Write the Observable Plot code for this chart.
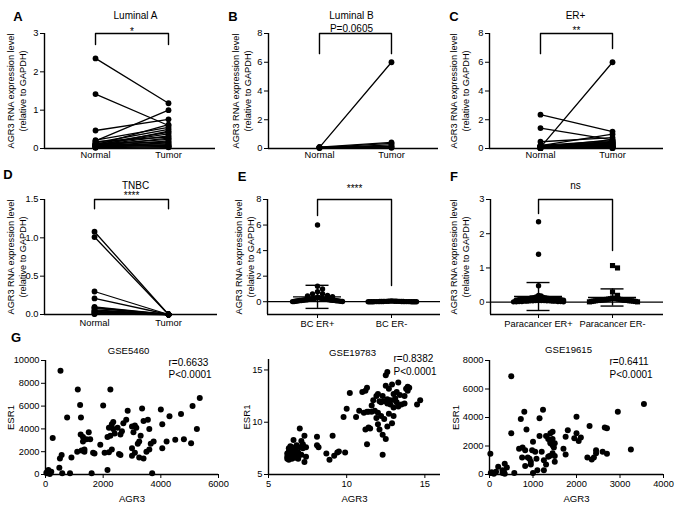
<!DOCTYPE html>
<html>
<head>
<meta charset="utf-8">
<script src="https://cdn.jsdelivr.net/npm/d3@7"></script>
<script src="https://cdn.jsdelivr.net/npm/@observablehq/plot@0.6"></script>
<style>
  body { margin: 0; background: #fff; }
  #fig { position: relative; width: 677px; height: 507px; overflow: hidden; background: #fff;
         font-family: Arial, "Liberation Sans", Helvetica, sans-serif; }
  .panel { position: absolute; }
  .letter { position: absolute; font-weight: bold; font-size: 13px; line-height: 1; transform: translate(-50%, -50%); color: #000; }
</style>
</head>
<body>
<div id="fig"></div>
<script>
// ---------------- DATA ----------------
const pairedCats = ["Normal", "Tumor"];
const bcCats = ["BC ER+", "BC ER-"];
const paraCats = ["Paracancer ER+", "Paracancer ER-"];
const yLabelExpr = "AGR3 RNA expression level\n(relative to GAPDH)";

// A: Luminal A (paired)
const lumANormal = [2.35,1.42,0.47,0.20,0.22,0.15,0.12,0.10,0.08,0.18,0.06,0.10,0.05,0.12,0.04,0.08,0.03,0.06,0.10,0.02,0.14,0.05,0.09,0.07];
const lumATumor  = [1.18,0.60,0.76,1.00,0.55,0.50,0.42,0.38,0.33,0.30,0.27,0.24,0.20,0.17,0.15,0.12,0.10,0.08,0.06,0.05,0.04,0.03,0.62,0.45];
// B: Luminal B (paired)
const lumBNormal = [0.08,0.10,0.06,0.05,0.09,0.04,0.07];
const lumBTumor  = [6.00,0.42,0.35,0.25,0.15,0.10,0.05];
// C: ER+ (paired)
const erPosNormal = [2.35,1.42,0.47,0.20,0.22,0.15,0.12,0.10,0.08,0.18,0.06,0.10,0.05,0.12,0.04,0.08,0.03,0.06,0.10,0.02,0.14,0.05,0.09,0.07,0.08,0.10,0.06,0.05,0.09,0.04,0.07];
const erPosTumor  = [1.18,0.60,0.76,1.00,0.55,0.50,0.42,0.38,0.33,0.30,0.27,0.24,0.20,0.17,0.15,0.12,0.10,0.08,0.06,0.05,0.04,0.03,0.62,0.45,6.00,0.42,0.35,0.25,0.15,0.10,0.05];
// D: TNBC (paired)
const tnbcNormal = [1.08,1.01,0.30,0.21,0.10,0.09,0.08,0.06,0.05,0.04,0.03,0.02,0.01,0.005];
const tnbcTumor  = [0,0,0,0,0,0,0,0,0,0,0,0,0,0];
// E: BC ER+ vs BC ER-
const bcErPos = [6.0,1.22,1.0,0.78,0.62,0.6,0.5,0.45,0.4,0.35,0.32,0.3,0.28,0.26,0.25,0.24,0.22,0.21,0.2,0.2,0.19,0.18,0.17,0.16,0.15,0.15,0.14,0.13,0.12,0.12,0.11,0.1,0.1,0.09,0.08,0.08,0.07,0.06,0.05,0.04,0.03,0.02,0.02,0.01];
const bcErNeg = [0.06,0.05,0.05,0.04,0.04,0.04,0.03,0.03,0.03,0.03,0.02,0.02,0.02,0.02,0.02,0.01,0.01,0.01,0.01,0.01,0.01,0.01,0,0,0,0,0,0,0,0];
// F: Paracancer ER+ vs ER-
const paraErPos = [2.35,1.4,0.48,0.2,0.18,0.15,0.14,0.13,0.12,0.12,0.11,0.1,0.1,0.1,0.09,0.09,0.08,0.08,0.08,0.07,0.07,0.06,0.06,0.05,0.05,0.05,0.05,0.04,0.04,0.04,0.04,0.03,0.03,0.03,0.03,0.02,0.02,0.02,0.02,0.01,0.01,0.01];
const paraErNeg = [1.07,1.0,0.3,0.2,0.12,0.11,0.1,0.1,0.09,0.09,0.08,0.08,0.07,0.07,0.07,0.06,0.06,0.06,0.05,0.05,0.05,0.04,0.04,0.04,0.03,0.03,0.02,0.02,0.01,0.01];

// G: correlations [AGR3, ESR1]
const gse5460 = [[50,100],[80,300],[120,200],[150,50],[200,250],[250,3200],[100,400],[30,150],
  [500,1400],[520,9100],[480,600],[560,1700],[580,100],[750,5000],[850,100],[900,1500],
  [1100,2000],[1120,7450],[1200,6100],[1230,5000],[1220,3500],[1300,3300],[1250,2100],[1300,2900],[1350,2200],[1420,3100],[1500,3700],[1350,2000],[1550,3100],
  [1600,100],[1650,1900],[1700,1850],[1900,2600],[2000,6050],[2050,1900],[2150,400],[2150,3300],[2200,4100],[2200,1950],[2250,7450],[2250,3400],[2300,4400],[2350,4000],[2300,2200],[2350,4600],[2400,3600],[2500,4100],[2600,3500],[2550,1800],[2700,4500],[2800,4800],[2850,5600],[2650,3800],[2600,1700],
  [3000,1650],[3000,2300],[3000,4200],[3050,3700],[3100,4300],[3100,1900],[3150,4100],[3200,2700],[3250,1500],[3250,2900],[3300,3400],[3350,5800],[3400,4700],[3400,1400],[3500,2000],[3550,4800],[3600,2200],[3600,4000],[3650,2700],[3700,100],[3750,2900],
  [4000,5700],[4050,4400],[4050,2300],[4200,2900],[4300,5100],[4500,3050],[4700,5300],[4800,3100],[5050,2750],[5100,6000],[5250,4000],[5350,6700]];
const gse19783 = [[8.1,8.6],[8.2,7.6],[8.1,7.8],[8.7,7.0],[8.9,6.4],[9.1,8.7],[9.2,6.8],[9.4,7.1],[9.5,7.2],[9.9,7.1],[9.8,10.5],[10.0,11.3],[10.2,12.8],[10.6,10.5],[10.8,11.1],[11.0,12.9],[11.2,13.0],[11.3,13.3],[11.2,9.3],[11.3,7.9],[11.4,9.5],[11.5,9.4],[11.6,11.6],[11.4,11.0],[11.6,11.0],[11.8,11.1],[11.9,10.4],[11.9,12.5],[12.0,9.8],[12.0,10.9],[12.1,9.3],[12.2,11.9],[12.3,12.5],[12.3,8.8],[12.3,6.9],[12.4,10.3],[12.4,12.0],[12.5,13.5],[12.5,14.5],[12.6,14.8],[12.6,12.2],[12.6,11.8],[12.5,8.4],[12.7,13.2],[12.7,10.8],[12.8,12.1],[12.8,11.7],[12.9,13.6],[12.9,9.9],[13.0,12.7],[13.0,11.4],[13.1,12.3],[13.1,12.1],[13.2,12.9],[13.2,11.9],[13.3,13.8],[13.3,11.5],[13.4,12.6],[13.5,11.7],[13.7,12.5],[13.8,13.2],[13.9,13.4],[13.9,13.0],[14.0,13.3],[13.7,11.8],[14.5,11.7],[14.7,12.1],[12.0,12.7],[11.7,12.1],[12.1,12.0],[12.2,10.6],[11.1,10.9],[11.3,11.0],[12.6,9.6],[13.0,10.6],
  [6.2,6.5],[6.2,6.7],[6.2,7.0],[6.3,6.4],[6.3,6.8],[6.3,7.2],[6.3,7.5],[6.4,6.6],[6.4,7.7],[6.4,6.9],[6.5,7.3],[6.5,6.5],[6.6,8.3],[6.6,7.0],[6.7,6.6],[6.7,7.4],[6.8,7.8],[6.9,6.5],[6.9,7.1],[7.0,9.4],[7.0,7.6],[7.1,6.9],[7.1,8.2],[7.2,7.5],[7.3,6.2],[7.3,8.7],[7.4,7.6],[7.4,6.7],[7.2,7.9],[6.5,7.6],[6.8,6.8]];
const gse19615 = [[20,1450],[30,100],[50,150],[100,50],[150,200],[200,550],[300,300],[330,250],[350,750],[300,100],[350,50],[400,500],[500,2900],[500,6900],[570,100],[680,1800],[720,3900],[750,1200],[760,1900],[800,4400],[820,1700],[820,600],[850,3150],[880,1200],[920,1100],[950,700],[950,900],[980,1700],[1000,2300],[1000,100],[1050,1600],[1080,1100],[1100,300],[1150,3950],[1150,2700],[1200,1600],[1230,4550],[1250,1000],[1250,300],[1300,700],[1300,2700],[1350,2500],[1380,1300],[1400,2200],[1400,2900],[1400,2300],[1450,3000],[1450,2500],[1450,1500],[1480,1900],[1500,2200],[1500,1300],[1500,900],[1350,1250],[1450,2050],[1700,1800],[1750,2650],[1750,1400],[1800,3100],[1950,2550],[2000,4050],[2000,2900],[2050,2350],[2100,2600],[2250,1200],[2300,3400],[2350,1050],[2400,1200],[2450,1500],[2450,1700],[2600,1600],[2650,3300],[2700,3250],[2700,1450],[2950,4400],[3250,1750],[3550,4950]];
const corrStats = ["r=0.6633\nP<0.0001", "r=0.8382\nP<0.0001", "r=0.6411\nP<0.0001"];

// ---------------- RENDER ----------------
const FONT = 'Arial, "Liberation Sans", Helvetica, sans-serif';
const fig = document.getElementById("fig");
const AX = 1.4;

function place(svg, left, top) {
  const d = document.createElement("div");
  d.className = "panel";
  d.style.left = left + "px";
  d.style.top = top + "px";
  d.appendChild(svg);
  fig.appendChild(d);
}
function letter(t, cx, cy) {
  const d = document.createElement("div");
  d.className = "letter";
  d.textContent = t;
  d.style.left = cx + "px";
  d.style.top = cy + "px";
  fig.appendChild(d);
}
function baseStyle() {
  return {background: "transparent", fontFamily: FONT, fontSize: "9.3px", color: "black", overflow: "visible"};
}
function bracketMarks(c) {
  const [l, t, r] = c.bracket;
  const pts = [{x: 0, y: l}, {x: 0, y: t}, {x: 1, y: t}, {x: 1, y: r}];
  const m = [Plot.line(pts, {x: "x", y: "y", stroke: "black", strokeWidth: AX})];
  if (c.sig) m.push(Plot.text([{x: 0.5, y: t, s: c.sig}], {x: "x", y: "y", text: "s", dy: c.sigDy, fontSize: 10, fill: "black", textAnchor: "middle", lineAnchor: "middle"}));
  return m;
}
function yLabelMark(text, dx, size, lh) {
  return Plot.text([text], {frameAnchor: "left", rotate: -90, dx, fontSize: size, lineHeight: lh, textAnchor: "middle", lineAnchor: "middle"});
}

function pairedPanel(c) {
  const rows = [];
  c.normal.forEach((v, i) => {
    rows.push({pair: i, cat: 0, value: v});
    rows.push({pair: i, cat: 1, value: c.tumor[i]});
  });
  const marks = [
    Plot.ruleX([c.xDomain[0]], {strokeWidth: AX}),
    Plot.ruleY([c.yDomain[0]], {strokeWidth: AX}),
    Plot.line(rows, {x: "cat", y: "value", z: "pair", stroke: "black", strokeWidth: 1.3}),
    Plot.dot(rows, {x: "cat", y: "value", r: 2.9, fill: "black", stroke: "none"}),
    ...bracketMarks(c),
    yLabelMark(yLabelExpr, c.yLabelDx, 9.2, 1.3),
    Plot.text([c.title], {frameAnchor: "top", dx: c.titleDx, dy: c.titleDy, fontSize: 10, lineHeight: 1.3, textAnchor: "middle", lineAnchor: "middle"})
  ];
  const svg = Plot.plot({
    width: c.width, height: c.height,
    marginLeft: c.mL, marginRight: c.mR, marginTop: c.mT, marginBottom: c.height - c.mT - c.fh,
    x: {type: "linear", domain: c.xDomain, ticks: [0, 1], tickFormat: i => pairedCats[i], tickSize: 0, tickPadding: c.xPad, label: null},
    y: {domain: c.yDomain, ticks: c.yTicks, tickFormat: c.fmt, tickSize: 4, tickPadding: 2, label: null},
    style: baseStyle(),
    marks
  });
  place(svg, c.left, c.top);
}

function swarm(values, cat, pxX, pxY, halfPx, dotPx) {
  const order = values.map((v, i) => ({v, i})).sort((a, b) => b.v - a.v);
  const rows = [];
  for (const d of order) {
    const row = rows[rows.length - 1];
    if (row && (row[0].v - d.v) * pxY < dotPx) row.push(d); else rows.push([d]);
  }
  const out = [];
  for (const row of rows) {
    const n = row.length, half = Math.ceil((n - 1) / 2);
    const step = half > 0 ? Math.min(dotPx, halfPx / half) : 0;
    row.forEach((d, j) => {
      const k = Math.ceil(j / 2) * (j % 2 ? 1 : -1);
      out.push({cat, value: d.v, xs: cat + k * step / pxX});
    });
  }
  return out;
}

function dotPlotPanel(c) {
  const fw = c.width - c.mL - c.mR;
  const pxX = fw / (c.xDomain[1] - c.xDomain[0]);
  const pxY = c.fh / (c.yDomain[1] - c.yDomain[0]);
  const groups = [c.g0, c.g1];
  const pts = groups.map((g, i) => swarm(g, i, pxX, pxY, 25, 5));
  const stats = groups.map((g, i) => ({cat: i, mean: d3.mean(g), sd: d3.deviation(g)}));
  const mh = 24 / pxX, ch = 11.5 / pxX;
  const marks = [
    Plot.ruleX([c.xDomain[0]], {strokeWidth: AX}),
    Plot.ruleY([c.yDomain[0]], {strokeWidth: AX}),
    Plot.ruleY([0], {strokeWidth: 1.2}),
    Plot.ruleX(stats, {x: "cat", y1: d => d.mean - d.sd, y2: d => d.mean + d.sd, strokeWidth: AX}),
    Plot.ruleY(stats, {y: d => d.mean + d.sd, x1: d => d.cat - ch, x2: d => d.cat + ch, strokeWidth: AX}),
    Plot.ruleY(stats, {y: d => d.mean - d.sd, x1: d => d.cat - ch, x2: d => d.cat + ch, strokeWidth: AX}),
    Plot.ruleY(stats, {y: "mean", x1: d => d.cat - mh, x2: d => d.cat + mh, strokeWidth: AX}),
    Plot.dot(pts[0], {x: "xs", y: "value", r: 2.7, fill: "black", stroke: "none", symbol: "circle"}),
    Plot.dot(pts[1], {x: "xs", y: "value", r: c.sym1 === "square" ? 2.9 : 2.7, fill: "black", stroke: "none", symbol: c.sym1}),
    ...bracketMarks(c),
    yLabelMark(yLabelExpr, c.yLabelDx, 9.2, 1.3)
  ];
  const svg = Plot.plot({
    width: c.width, height: c.height,
    marginLeft: c.mL, marginRight: c.mR, marginTop: c.mT, marginBottom: c.height - c.mT - c.fh,
    x: {type: "linear", domain: c.xDomain, ticks: [0, 1], tickFormat: i => c.cats[i], tickSize: 4, tickPadding: 1.5, label: null},
    y: {domain: c.yDomain, ticks: c.yTicks, tickFormat: c.fmt, tickSize: 4, tickPadding: 2, label: null},
    style: baseStyle(),
    marks
  });
  place(svg, c.left, c.top);
}

function corrPanel(c) {
  const marks = [
    Plot.ruleX([c.xDomain[0]], {strokeWidth: AX}),
    Plot.ruleY([c.yDomain[0]], {strokeWidth: AX}),
    Plot.dot(c.points, {x: d => d[0], y: d => d[1], r: 3, fill: "black", stroke: "none"}),
    Plot.text([c.title], {frameAnchor: "top", dx: c.titleDx, dy: c.titleDy, fontSize: 9.6, textAnchor: "middle", lineAnchor: "middle"}),
    Plot.text([c.stat], {frameAnchor: "top-right", textAnchor: "start", lineAnchor: "top", dx: c.statDx, dy: c.statDy, fontSize: 10, lineHeight: 1.25}),
    Plot.text(["AGR3"], {frameAnchor: "bottom", dy: 24, fontSize: 9.6, textAnchor: "middle", lineAnchor: "middle"}),
    yLabelMark("ESR1", c.yLabelDx, 9.6, 1.2)
  ];
  const svg = Plot.plot({
    width: c.width, height: c.height,
    marginLeft: c.mL, marginRight: c.mR, marginTop: c.mT, marginBottom: c.height - c.mT - c.fh,
    x: {domain: c.xDomain, ticks: c.xTicks, tickFormat: "d", tickSize: 4, tickPadding: 2, label: null},
    y: {domain: c.yDomain, ticks: c.yTicks, tickFormat: "d", tickSize: 4, tickPadding: 2, label: null},
    style: baseStyle(),
    marks
  });
  place(svg, c.left, c.top);
}

// Row 1
pairedPanel({left: 0, top: 0, width: 225, height: 170, mL: 44, mR: 10, mT: 33, fh: 115,
  xDomain: [-0.699, 1.644], yDomain: [0, 3], yTicks: [0, 1, 2, 3], fmt: "d", xPad: 3,
  normal: lumANormal, tumor: lumATumor, yLabelDx: -28,
  title: "Luminal A", titleDx: 5.5, titleDy: -19, sig: "*", sigDy: -2, bracket: [2.71, 3, 2.71]});
pairedPanel({left: 225, top: 0, width: 225, height: 170, mL: 43, mR: 12, mT: 33, fh: 115,
  xDomain: [-0.708, 1.653], yDomain: [0, 8], yTicks: [0, 2, 4, 6, 8], fmt: "d", xPad: 3,
  normal: lumBNormal, tumor: lumBTumor, yLabelDx: -27,
  title: "Luminal B\nP=0.0605", titleDx: -2, titleDy: -12.5, sig: null, bracket: [6.6, 8, 6.6]});
pairedPanel({left: 450, top: 0, width: 227, height: 170, mL: 39, mR: 14, mT: 33, fh: 115,
  xDomain: [-0.708, 1.708], yDomain: [0, 8], yTicks: [0, 2, 4, 6, 8], fmt: "d", xPad: 3,
  normal: erPosNormal, tumor: erPosTumor, yLabelDx: -30,
  title: "ER+", titleDx: -1, titleDy: -19, sig: "**", sigDy: -3, bracket: [6.6, 8, 6.96]});

// Row 2
pairedPanel({left: 0, top: 160, width: 225, height: 172, mL: 44, mR: 8, mT: 39, fh: 115,
  xDomain: [-0.676, 1.662], yDomain: [0, 1.5], yTicks: [0, 0.5, 1, 1.5], fmt: ".1f", xPad: 5,
  normal: tnbcNormal, tumor: tnbcTumor, yLabelDx: -28,
  title: "TNBC", titleDx: 4.5, titleDy: -15, sig: "****", sigDy: -4, bracket: [1.38, 1.5, 1.38]});
dotPlotPanel({left: 225, top: 160, width: 225, height: 175, mL: 42, mR: 10, mT: 39, fh: 115,
  xDomain: [-0.676, 1.662], yDomain: [-1, 8], yTicks: [0, 2, 4, 6, 8], fmt: "d",
  g0: bcErPos, g1: bcErNeg, sym1: "circle", cats: bcCats, yLabelDx: -23,
  sig: "****", sigDy: -11, bracket: [6.75, 8, 1.27]});
dotPlotPanel({left: 450, top: 160, width: 227, height: 175, mL: 40, mR: 14, mT: 39, fh: 115,
  xDomain: [-0.649, 1.689], yDomain: [-0.36, 3], yTicks: [0, 1, 2, 3], fmt: "d",
  g0: paraErPos, g1: paraErNeg, sym1: "square", cats: paraCats, yLabelDx: -31,
  sig: "ns", sigDy: -14, bracket: [2.59, 3, 1.51]});

// Row 3
corrPanel({left: 0, top: 320, width: 225, height: 187, mL: 45, mR: 7, mT: 40, fh: 114,
  xDomain: [0, 6000], xTicks: [0, 2000, 4000, 6000], yDomain: [0, 10000], yTicks: [0, 2000, 4000, 6000, 8000, 10000],
  points: gse5460, title: "GSE5460", titleDx: -3.5, titleDy: -10, stat: corrStats[0], statDx: -50, statDy: -3.5, yLabelDx: -35});
corrPanel({left: 225, top: 320, width: 225, height: 187, mL: 43, mR: 10, mT: 39, fh: 115,
  xDomain: [5, 16], xTicks: [5, 10, 15], yDomain: [5, 16], yTicks: [5, 10, 15],
  points: gse19783, title: "GSE19783", titleDx: -2, titleDy: -7, stat: corrStats[1], statDx: -47, statDy: -6, yLabelDx: -22});
corrPanel({left: 450, top: 320, width: 227, height: 187, mL: 39, mR: 14, mT: 40, fh: 114,
  xDomain: [0, 4000], xTicks: [0, 1000, 2000, 3000, 4000], yDomain: [0, 8000], yTicks: [0, 2000, 4000, 6000, 8000],
  points: gse19615, title: "GSE19615", titleDx: -8, titleDy: -11, stat: corrStats[2], statDx: -54, statDy: -4, yLabelDx: -34});

// Panel letters
letter("A", 18, 16); letter("B", 233, 16); letter("C", 454, 16);
letter("D", 8, 174); letter("E", 242, 176); letter("F", 454, 176);
letter("G", 16, 337);
</script>
</body>
</html>
